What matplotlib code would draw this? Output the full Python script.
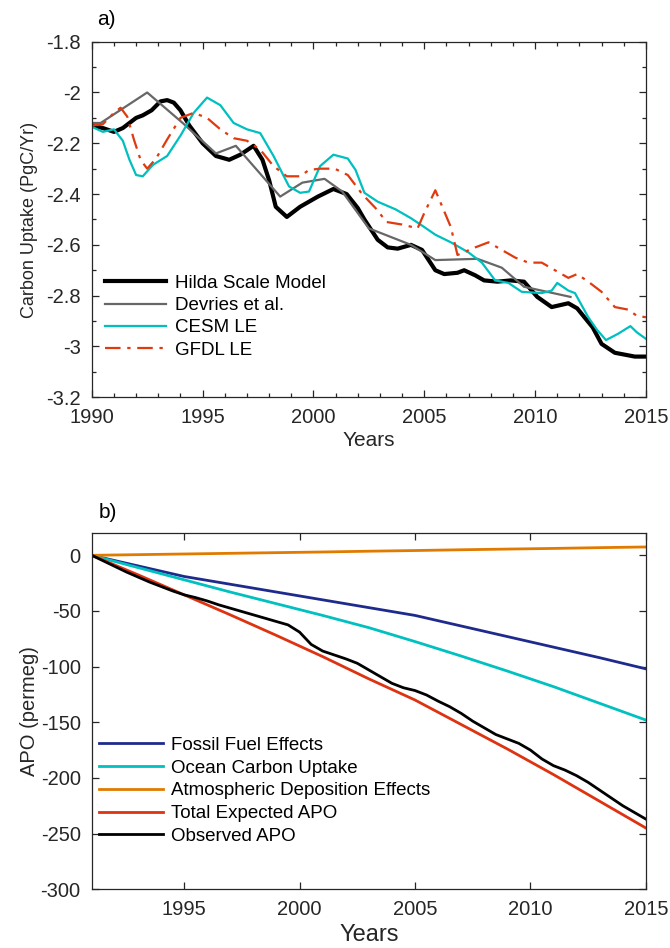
import numpy as np
import matplotlib
matplotlib.use("Agg")
import matplotlib.pyplot as plt
from matplotlib.ticker import MultipleLocator

plt.rcParams['font.family'] = ['Liberation Sans', 'DejaVu Sans']
plt.rcParams['axes.unicode_minus'] = False

# ---- panel a: carbon uptake (PgC/Yr)
hilda_yr = [1990, 1990.5, 1991, 1991.4, 1991.7, 1992, 1992.3, 1992.7, 1993.1, 1993.4, 1993.7,
            1994, 1994.4, 1995, 1995.6, 1996.2, 1996.7, 1997.3, 1997.7, 1998, 1998.3, 1998.8,
            1999.4, 2000.2, 2000.9, 2001.5, 2002, 2002.3, 2002.9, 2003.35, 2003.8, 2004.4,
            2004.9, 2005.5, 2005.9, 2006.5, 2006.8, 2007.3, 2007.7, 2008.3, 2008.9, 2009.5,
            2010.1, 2010.75, 2011.5, 2011.9, 2012.6, 2013.0, 2013.6, 2014.5, 2015]
hilda = [-2.13, -2.14, -2.155, -2.14, -2.12, -2.10, -2.09, -2.07, -2.035, -2.03, -2.04,
         -2.07, -2.13, -2.20, -2.25, -2.265, -2.245, -2.21, -2.265, -2.345, -2.45, -2.49,
         -2.45, -2.41, -2.38, -2.40, -2.455, -2.50, -2.58, -2.61, -2.615, -2.60,
         -2.62, -2.70, -2.715, -2.71, -2.70, -2.72, -2.74, -2.745, -2.74, -2.745,
         -2.805, -2.845, -2.83, -2.85, -2.925, -2.99, -3.025, -3.04, -3.04]

devries_yr = [1990, 1990.4, 1992.5, 1994.1, 1995.6, 1996.5, 1998.5, 1999.5, 2000.5, 2001.3,
              2002.5, 2004.4, 2005.5, 2007.4, 2008.5, 2009.5, 2011.6]
devries = [-2.12, -2.12, -2.0, -2.12, -2.24, -2.21, -2.41, -2.355, -2.34, -2.39,
           -2.535, -2.60, -2.66, -2.655, -2.69, -2.765, -2.805]

cesm_yr = [1990, 1990.5, 1991, 1991.4, 1991.7, 1992.0, 1992.3, 1992.76, 1993.4, 1994.0,
           1994.6, 1995.2, 1995.8, 1996.4, 1997.0, 1997.6, 1998.2, 1998.9, 1999.4, 1999.8,
           2000.3, 2000.9, 2001.55, 2001.9, 2002.3, 2002.9, 2003.7, 2004.4, 2005.0, 2005.5,
           2006.2, 2007.0, 2007.6, 2008.2, 2008.8, 2009.4, 2010.3, 2010.75, 2011.0, 2011.5,
           2011.8, 2012.4, 2012.8, 2013.2, 2013.75, 2014.3, 2014.6, 2015]
cesm = [-2.135, -2.155, -2.145, -2.19, -2.265, -2.325, -2.33, -2.285, -2.25, -2.17,
        -2.08, -2.02, -2.05, -2.12, -2.145, -2.16, -2.25, -2.37, -2.395, -2.39,
        -2.29, -2.245, -2.26, -2.305, -2.395, -2.43, -2.46, -2.495, -2.53, -2.56,
        -2.59, -2.63, -2.67, -2.74, -2.75, -2.785, -2.79, -2.78, -2.75, -2.78,
        -2.79, -2.885, -2.935, -2.975, -2.95, -2.92, -2.945, -2.97]

gfdl_yr = [1990, 1990.5, 1991, 1991.3, 1991.6, 1991.9, 1992.2, 1992.5, 1992.9, 1993.4,
           1994.0, 1994.6, 1995.2, 1995.8, 1996.4, 1997.0, 1997.6, 1998.2, 1998.8, 1999.4,
           1999.8, 2000.3, 2000.96, 2001.55, 2002.2, 2002.8, 2003.3, 2004.0, 2004.7, 2005.0,
           2005.5, 2006.2, 2006.5, 2007.3, 2007.9, 2008.3, 2009.1, 2009.7, 2010.3, 2010.9,
           2011.5, 2011.9, 2012.4, 2013.0, 2013.6, 2014.2, 2014.6, 2015]
gfdl = [-2.13, -2.125, -2.08, -2.06, -2.095, -2.185, -2.265, -2.30, -2.26, -2.185,
        -2.10, -2.08, -2.10, -2.145, -2.18, -2.19, -2.225, -2.29, -2.33, -2.33,
        -2.305, -2.30, -2.30, -2.325, -2.40, -2.455, -2.51, -2.52, -2.535, -2.475,
        -2.385, -2.53, -2.64, -2.61, -2.59, -2.61, -2.65, -2.67, -2.67, -2.70,
        -2.73, -2.715, -2.745, -2.785, -2.845, -2.855, -2.88, -2.885]

# ---- panel b: APO (permeg)
apo_yr = [1991, 1993, 1995, 1997, 1999, 2001, 2003, 2005, 2007, 2009, 2011, 2013, 2015]
fossil = [0, -9.5, -19, -26, -33, -40, -47, -54, -63.5, -73, -82.5, -92, -102]
ocean = [0, -11, -22, -33, -43.5, -54, -65, -77.5, -90.5, -104, -118, -133, -148]
atmos = [0, 0.6, 1.2, 1.8, 2.4, 3.0, 3.7, 4.3, 5.0, 5.6, 6.2, 6.9, 7.5]
total = [0, -17.5, -35.5, -53.5, -72, -91, -111, -130, -152, -174, -197, -221, -245]

obs_yr = [1991, 1991.5, 1992, 1992.5, 1993, 1993.5, 1994, 1994.5, 1995, 1995.5, 1996, 1996.5,
          1997, 1997.5, 1998, 1998.5, 1999, 1999.5, 2000, 2000.5, 2001, 2001.5, 2002, 2002.5,
          2003, 2003.5, 2004, 2004.5, 2005, 2005.5, 2006, 2006.5, 2007, 2007.5, 2008, 2008.5,
          2009, 2009.5, 2010, 2010.5, 2011, 2011.5, 2012, 2012.5, 2013, 2013.5, 2014, 2014.5, 2015]
observed = [0, -5, -10, -15, -19.5, -24, -28, -32, -35.5, -38, -41, -44.5,
            -47.5, -50.5, -53.5, -56.5, -59.5, -62.5, -69, -80, -86, -89.5, -93, -97,
            -103, -109, -115, -119, -121.5, -125.5, -131, -136, -142, -149, -155, -161,
            -165, -169, -175, -183, -189, -193, -198, -204, -211, -218, -225, -231, -237]

axc = '#262626'
fig = plt.figure(figsize=(6.7, 9.48), dpi=100)
ax1 = fig.add_axes([0.137, 0.581, 0.827, 0.375])
ax2 = fig.add_axes([0.137, 0.062, 0.827, 0.3757])

ax1.plot(hilda_yr, hilda, color='black', lw=3.0, label='Hilda Scale Model')
ax1.plot(devries_yr, devries, color='#676767', lw=1.6, label='Devries et al.')
ax1.plot(cesm_yr, cesm, color='#00bfbf', lw=1.6, label='CESM LE')
ax1.plot(gfdl_yr, gfdl, color='#e03a10', lw=1.6, ls=(0, (7, 3, 1.5, 3)), label='GFDL LE')
ax1.set_xlim(1990, 2015)
ax1.set_ylim(-3.2, -1.8)
ax1.xaxis.set_major_locator(MultipleLocator(5))
ax1.xaxis.set_minor_locator(MultipleLocator(1))
ax1.yaxis.set_minor_locator(MultipleLocator(0.1))
ax1.set_yticks(np.arange(-3.2, -1.79, 0.2))
ax1.set_yticklabels(['-3.2', '-3', '-2.8', '-2.6', '-2.4', '-2.2', '-2', '-1.8'])
ax1.set_xlabel('Years', fontsize=15, color=axc, labelpad=3)
ax1.set_ylabel('Carbon Uptake (PgC/Yr)', fontsize=13, color=axc, labelpad=6)
ax1.text(0.01, 1.035, 'a)', transform=ax1.transAxes, fontsize=15, va='bottom')
ax1.legend(loc='upper left', bbox_to_anchor=(0.023, 0.345), frameon=False, fontsize=13.5,
           handlelength=3.3, handletextpad=0.45, labelspacing=0.28, borderpad=0, borderaxespad=0)

ax2.plot(apo_yr, fossil, color='#1f2b8c', lw=2.0, label='Fossil Fuel Effects')
ax2.plot(apo_yr, ocean, color='#00c0c0', lw=2.0, label='Ocean Carbon Uptake')
ax2.plot(apo_yr, atmos, color='#e07b00', lw=2.0, label='Atmospheric Deposition Effects')
ax2.plot(apo_yr, total, color='#dd3311', lw=2.0, label='Total Expected APO')
ax2.plot(obs_yr, observed, color='black', lw=2.0, label='Observed APO')
ax2.set_xlim(1991, 2015)
ax2.set_ylim(-300, 20)
ax2.set_xticks([1995, 2000, 2005, 2010, 2015])
ax2.set_yticks(np.arange(-300, 1, 50))
ax2.set_xlabel('Years', fontsize=17, color=axc, labelpad=3)
ax2.set_ylabel('APO (permeg)', fontsize=14.5, color=axc, labelpad=1)
ax2.text(0.013, 1.03, 'b)', transform=ax2.transAxes, fontsize=15, va='bottom')
ax2.legend(loc='upper left', bbox_to_anchor=(0.013, 0.428), frameon=False, fontsize=13.5,
           handlelength=3.4, handletextpad=0.45, labelspacing=0.3, borderpad=0, borderaxespad=0)

for ax in (ax1, ax2):
    ax.tick_params(which='both', direction='in', top=True, right=True, colors=axc,
                   labelsize=14.5, width=0.9, pad=8)
    ax.tick_params(which='major', length=5)
    ax.tick_params(which='minor', length=3)
    for s in ax.spines.values():
        s.set_color(axc)
        s.set_linewidth(0.9)

fig.savefig('out.png', dpi=100)
